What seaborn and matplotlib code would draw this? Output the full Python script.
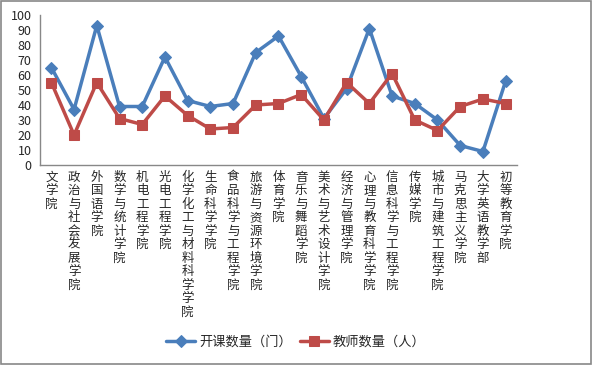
import matplotlib
matplotlib.use('Agg')
import matplotlib.pyplot as plt
from matplotlib.patches import Rectangle
import seaborn as sns
import pandas as pd

colleges = ["文学院", "政治与社会发展学院", "外国语学院", "数学与统计学院", "机电工程学院",
            "光电工程学院", "化学化工与材料科学学院", "生命科学学院", "食品科学与工程学院",
            "旅游与资源环境学院", "体育学院", "音乐与舞蹈学院", "美术与艺术设计学院",
            "经济与管理学院", "心理与教育科学学院", "信息科学与工程学院", "传媒学院",
            "城市与建筑工程学院", "马克思主义学院", "大学英语教学部", "初等教育学院"]
courses = [65, 37, 93, 39, 39, 72, 43, 39, 41, 75, 86, 59, 31, 51, 91, 46, 41, 30, 13, 9, 56]
teachers = [55, 20, 55, 31, 27, 46, 33, 24, 25, 40, 41, 47, 30, 55, 41, 61, 30, 23, 39, 44, 41]
series_names = ["开课数量（门）", "教师数量（人）"]

sns.set_style("white")
plt.rcParams['font.family'] = ['Noto Sans CJK SC', 'DejaVu Sans']

df = pd.DataFrame({"pos": range(len(colleges)), "courses": courses, "teachers": teachers})

fig = plt.figure(figsize=(5.92, 3.65), dpi=100)
ax = fig.add_axes([40 / 592, 1 - 165 / 365, 477 / 592, 150 / 365])

sns.lineplot(data=df, x="pos", y="courses", ax=ax, color="#4A7EBB", linewidth=2.5,
             marker="D", markersize=6, markeredgecolor="#4A7EBB", label=series_names[0])
sns.lineplot(data=df, x="pos", y="teachers", ax=ax, color="#BE4B48", linewidth=2.5,
             marker="s", markersize=7.5, markeredgecolor="#BE4B48", label=series_names[1])

ax.set_xlim(-0.5, len(colleges) - 0.5)
ax.set_ylim(0, 100)
ax.set_yticks(range(0, 101, 10))
ax.set_xticks(range(len(colleges)))
ax.set_xticklabels(["\n".join(c) for c in colleges], fontsize=9, linespacing=1.05,
                   va="top")
ax.set_xticks([i - 0.5 for i in range(len(colleges) + 1)], minor=True)
ax.tick_params(axis="x", which="major", length=0, pad=4)
ax.tick_params(axis="x", which="minor", length=4, color="#888888", direction="out")
ax.tick_params(axis="y", length=4, color="#888888", direction="out", labelsize=9, pad=2)
ax.set_xlabel("")
ax.set_ylabel("")
for s in ["top", "right"]:
    ax.spines[s].set_visible(False)
for s in ["left", "bottom"]:
    ax.spines[s].set_color("#888888")
    ax.spines[s].set_linewidth(1)

ax.get_legend().remove()
handles, labels = ax.get_legend_handles_labels()
fig.legend(handles, labels, loc="center", bbox_to_anchor=(0.5, 1 - 342 / 365), ncol=2,
           frameon=False, fontsize=9.5, handlelength=2.2, columnspacing=0.6, handletextpad=0.3)

fig.patches.append(Rectangle((0.002, 0.003), 0.996, 0.994, transform=fig.transFigure,
                             fill=False, edgecolor="#888888", linewidth=1.2))

fig.savefig("out.png", dpi=100)
